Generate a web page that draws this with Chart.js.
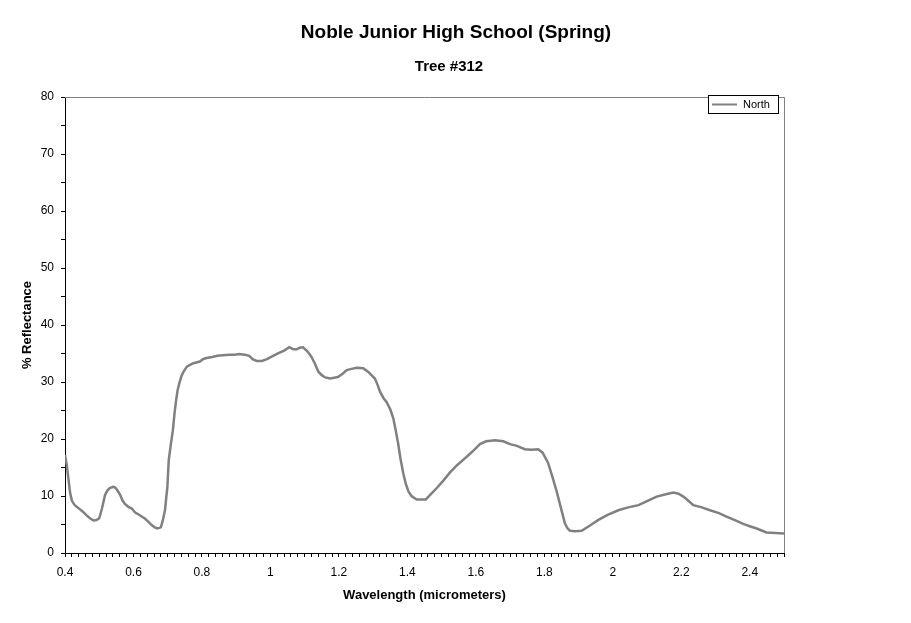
<!DOCTYPE html>
<html>
<head>
<meta charset="utf-8">
<script src="https://cdn.jsdelivr.net/npm/chart.js@4/dist/chart.umd.min.js"></script>
<style>
html,body{margin:0;padding:0;background:#fff;}
#wrap{width:911px;height:623px;position:relative;}
</style>
</head>
<body>
<div id="wrap"><canvas id="c" width="911" height="623"></canvas></div>
<script>
const chartTitle = 'Noble Junior High School (Spring)';
const chartSubtitle = 'Tree #312';
const xAxisTitle = 'Wavelength (micrometers)';
const yAxisTitle = '% Reflectance';
const seriesName = 'North';

const wavelengths = [
0.400,0.405,0.410,0.415,0.420,0.427,0.434,0.443,0.453,0.463,0.473,0.483,0.492,0.500,0.508,0.517,0.524,0.531,0.540,0.546,
0.553,0.561,0.568,0.575,0.585,0.595,0.605,0.614,0.624,0.634,0.643,0.653,0.662,0.670,0.680,0.686,0.692,0.699,0.703,0.709,
0.715,0.720,0.725,0.729,0.734,0.740,0.746,0.756,0.765,0.775,0.794,0.803,0.813,0.830,0.845,0.860,0.880,0.895,0.909,0.925,
0.938,0.948,0.960,0.975,0.990,1.005,1.025,1.040,1.055,1.065,1.075,1.085,1.095,1.108,1.120,1.130,1.140,1.150,1.160,1.175,
1.190,1.198,1.210,1.223,1.237,1.252,1.271,1.285,1.295,1.305,1.313,1.320,1.330,1.339,1.350,1.359,1.366,1.373,1.380,1.388,
1.395,1.403,1.412,1.427,1.440,1.454,1.470,1.486,1.505,1.524,1.545,1.568,1.590,1.612,1.630,1.656,1.680,1.700,1.720,1.743,
1.762,1.782,1.795,1.811,1.823,1.836,1.848,1.860,1.868,1.875,1.890,1.909,1.930,1.958,1.985,2.016,2.045,2.075,2.100,2.128,
2.155,2.177,2.192,2.206,2.220,2.235,2.260,2.284,2.310,2.332,2.355,2.381,2.400,2.420,2.449,2.475,2.500
];
const reflectanceNorth = [
17.2,15.5,13.0,10.5,9.2,8.5,8.1,7.7,7.2,6.6,6.1,5.7,5.8,6.1,7.8,10.2,11.0,11.4,11.6,11.5,
11.0,10.2,9.2,8.6,8.1,7.8,7.1,6.8,6.4,6.0,5.5,4.9,4.5,4.3,4.5,5.8,7.5,11.6,16.3,19.0,
21.5,24.6,27.0,28.6,29.8,31.0,31.8,32.7,33.0,33.3,33.6,34.0,34.2,34.4,34.6,34.7,34.8,34.8,34.9,34.8,
34.6,34.0,33.7,33.7,34.0,34.5,35.1,35.5,36.1,35.8,35.7,36.0,36.1,35.4,34.4,33.2,31.8,31.2,30.8,30.6,
30.8,30.9,31.4,32.1,32.3,32.5,32.4,31.8,31.2,30.6,29.5,28.3,27.2,26.5,25.2,23.6,21.5,19.2,16.5,14.0,
12.2,10.8,10.0,9.4,9.4,9.4,10.4,11.4,12.7,14.1,15.4,16.6,17.8,19.1,19.6,19.8,19.6,19.1,18.8,18.2,
18.1,18.2,17.6,15.8,13.5,10.8,8.0,5.2,4.3,3.9,3.8,3.9,4.7,5.8,6.7,7.5,8.0,8.4,9.1,9.9,
10.3,10.6,10.4,9.9,9.2,8.4,8.0,7.5,7.0,6.4,5.8,5.1,4.7,4.3,3.6,3.5,3.4
];

const xMin = 0.4, xMax = 2.5, xMinorStepHundredths = 2;
const xTickLabels = ['0.4','0.6','0.8','1','1.2','1.4','1.6','1.8','2','2.2','2.4'];
const yMin = 0, yMax = 80, yMinorStep = 5;
const yTickLabels = ['0','10','20','30','40','50','60','70','80'];

const FONT = "'Liberation Sans', Arial, sans-serif";

const points = wavelengths.map((w, i) => ({x: w, y: reflectanceNorth[i]}));

const decorPlugin = {
  id: 'decor',
  beforeDatasetsDraw(chart) {
    const {ctx, chartArea: a} = chart;
    ctx.save();
    ctx.strokeStyle = '#808080';
    ctx.lineWidth = 1;
    ctx.beginPath();
    ctx.moveTo(a.left, a.top + 0.5);
    ctx.lineTo(a.right + 0.5, a.top + 0.5);
    ctx.lineTo(a.right + 0.5, a.bottom);
    ctx.stroke();
    ctx.restore();
  },
  afterDraw(chart) {
    const {ctx} = chart;
    ctx.save();
    ctx.fillStyle = '#000';
    ctx.textAlign = 'center';
    ctx.textBaseline = 'middle';
    ctx.font = 'bold 19px ' + FONT;
    ctx.fillText(chartTitle, 456, 33);
    ctx.font = 'bold 15px ' + FONT;
    ctx.fillText(chartSubtitle, 449, 67);
    // legend
    const ds = chart.data.datasets[0];
    const bx = 708.5, by = 95.5, bw = 70, bh = 18;
    ctx.fillStyle = '#fff';
    ctx.fillRect(bx, by, bw, bh);
    ctx.strokeStyle = '#000';
    ctx.lineWidth = 1;
    ctx.strokeRect(bx, by, bw, bh);
    ctx.strokeStyle = ds.borderColor;
    ctx.lineWidth = 2;
    ctx.beginPath();
    ctx.moveTo(712, 104.5);
    ctx.lineTo(737, 104.5);
    ctx.stroke();
    ctx.fillStyle = '#000';
    ctx.font = '11px ' + FONT;
    ctx.textAlign = 'left';
    ctx.fillText(ds.label, 743, 105);
    ctx.restore();
  }
};

new Chart(document.getElementById('c'), {
  type: 'line',
  data: {
    datasets: [{
      label: seriesName,
      data: points,
      borderColor: '#808080',
      borderWidth: 2.5,
      pointRadius: 0,
      tension: 0,
      fill: false
    }]
  },
  options: {
    responsive: false,
    animation: false,
    events: [],
    layout: {padding: {top: 97, left: 20, right: 127, bottom: 20}},
    plugins: {legend: {display: false}, title: {display: false}, tooltip: {enabled: false}},
    scales: {
      x: {
        type: 'linear',
        min: xMin, max: xMax,
        afterFit(s) { s.height = 50; },
        afterBuildTicks(s) {
          const t = [];
          for (let h = Math.round(xMin*100); h <= Math.round(xMax*100); h += xMinorStepHundredths) t.push({value: h/100});
          s.ticks = t;
        },
        ticks: {
          autoSkip: false, maxRotation: 0, minRotation: 0, padding: 8,
          color: '#000', font: {family: FONT, size: 12},
          callback(v) {
            const h = Math.round(v*100);
            if (h % 20 !== 0) return '';
            const idx = (h - 40) / 20;
            return xTickLabels[idx] !== undefined ? xTickLabels[idx] : '';
          }
        },
        grid: {drawOnChartArea: false, drawTicks: true, tickLength: 4, color: '#000', tickColor: '#000'},
        border: {display: true, color: '#000', width: 1},
        title: {display: true, text: xAxisTitle, color: '#000', padding: 0, font: {family: FONT, size: 13, weight: 'bold'}}
      },
      y: {
        type: 'linear',
        min: yMin, max: yMax,
        afterFit(s) { s.width = 45; },
        afterBuildTicks(s) {
          const t = [];
          for (let v = yMin; v <= yMax; v += yMinorStep) t.push({value: v});
          s.ticks = t;
        },
        ticks: {
          autoSkip: false, padding: 7,
          color: '#000', font: {family: FONT, size: 12},
          callback(v) {
            if (v % 10 !== 0) return '';
            return yTickLabels[v / 10];
          }
        },
        grid: {drawOnChartArea: false, drawTicks: true, tickLength: 4, color: '#000', tickColor: '#000'},
        border: {display: true, color: '#000', width: 1},
        title: {display: true, text: yAxisTitle, color: '#000', padding: 0, font: {family: FONT, size: 13, weight: 'bold'}}
      }
    }
  },
  plugins: [decorPlugin]
});
</script>
</body>
</html>
